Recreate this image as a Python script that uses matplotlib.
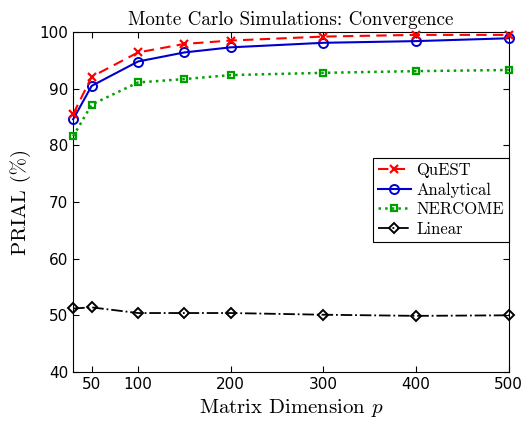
import matplotlib
matplotlib.use("Agg")
import matplotlib.pyplot as plt

plt.rcParams['mathtext.fontset'] = 'cm'
plt.rcParams['axes.unicode_minus'] = False

p_values = [30, 50, 100, 150, 200, 300, 400, 500]
quest = [85.5, 92.1, 96.4, 97.9, 98.5, 99.2, 99.5, 99.5]
analytical = [84.6, 90.5, 94.8, 96.4, 97.3, 98.1, 98.4, 98.9]
nercome = [81.6, 87.2, 91.1, 91.7, 92.4, 92.8, 93.1, 93.3]
linear = [51.2, 51.4, 50.4, 50.4, 50.4, 50.1, 49.9, 50.0]

xticks = [50, 100, 200, 300, 400, 500]
yticks = [40, 50, 60, 70, 80, 90, 100]

serif = 'cmr10'

fig = plt.figure(figsize=(5.3, 4.33), dpi=100)
ax = fig.add_axes([0.138, 0.141, 0.822, 0.785])

ax.plot(p_values, quest, color='#ff0000', linestyle='--', marker='x', ms=6,
        mew=1.6, lw=1.5, label='QuEST', dashes=(5, 3), clip_on=False, zorder=4)
ax.plot(p_values, analytical, color='#0000cc', linestyle='-', marker='o', ms=6.5,
        mfc='none', mew=1.4, lw=1.5, label='Analytical', clip_on=False, zorder=3)
ax.plot(p_values, nercome, color='#00a000', linestyle=':', marker='s', ms=4.3,
        mfc='none', mew=1.6, lw=1.8, label='NERCOME', clip_on=False, zorder=3)
ax.plot(p_values, linear, color='black', linestyle='-.', marker='D', ms=5.5,
        mfc='none', mew=1.4, lw=1.3, label='Linear', clip_on=False, zorder=3)

ax.set_xlim(30, 500)
ax.set_ylim(40, 100)
ax.set_xticks(xticks)
ax.set_yticks(yticks)
ax.tick_params(direction='in', top=True, right=True, labelsize=11, length=4)
for lab in ax.get_xticklabels() + ax.get_yticklabels():
    lab.set_family('DejaVu Sans')

ax.set_title('Monte Carlo Simulations: Convergence', fontsize=13.7, family=serif, pad=5)
ax.set_xlabel('Matrix Dimension $p$', fontsize=15, family=serif, labelpad=4)
ax.set_ylabel('PRIAL (%)', fontsize=15, family=serif, labelpad=6)

leg = ax.legend(loc='upper right', bbox_to_anchor=(1.0, 0.63), fancybox=False,
                edgecolor='black', framealpha=1, prop={'family': serif, 'size': 12},
                handlelength=2.0, handletextpad=0.3, borderpad=0.3, labelspacing=0.25,
                borderaxespad=0.0, numpoints=1)
leg.get_frame().set_linewidth(0.8)

fig.savefig('out.png', dpi=100)
